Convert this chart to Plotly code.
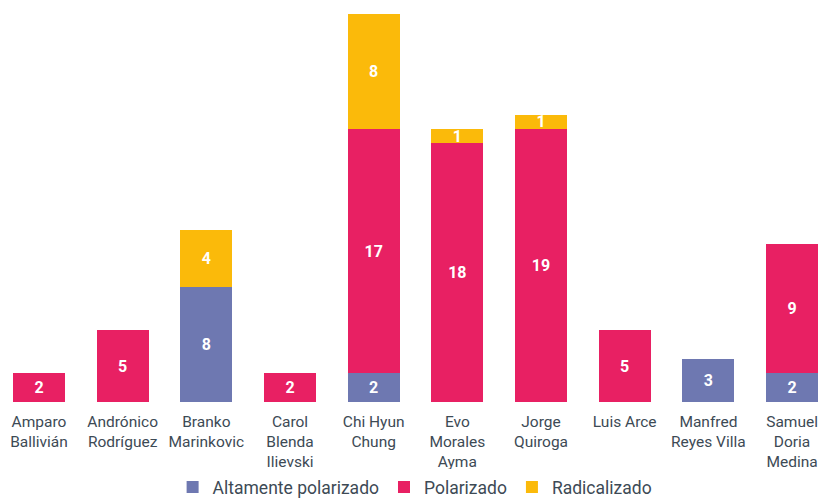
import plotly.graph_objects as go

categories = ["Amparo<br>Ballivián", "Andrónico<br>Rodríguez", "Branko<br>Marinkovic",
              "Carol<br>Blenda<br>Ilievski", "Chi Hyun<br>Chung", "Evo<br>Morales<br>Ayma",
              "Jorge<br>Quiroga", "Luis Arce", "Manfred<br>Reyes Villa", "Samuel<br>Doria<br>Medina"]
altamente = [None, None, 8, None, 2, None, None, None, 3, 2]
polarizado = [2, 5, None, 2, 17, 18, 19, 5, None, 9]
radicalizado = [None, None, 4, None, 8, 1, 1, None, None, None]

series = [
    ("Altamente polarizado", altamente, "#6e78b1"),
    ("Polarizado", polarizado, "#e82063"),
    ("Radicalizado", radicalizado, "#fbba0a"),
]

fig = go.Figure()
for name, vals, color in series:
    fig.add_trace(go.Bar(
        name=name, x=list(range(len(categories))), y=vals,
        marker=dict(color=color, line=dict(width=0)),
        text=["<b>%d</b>" % v if v is not None else "" for v in vals],
        textposition="inside", insidetextanchor="middle",
        textangle=0, constraintext="none",
        insidetextfont=dict(family="Roboto", size=16, color="white"),
        hoverinfo="name+y",
    ))

fig.update_layout(
    barmode="stack", bargap=0.38,
    width=822, height=500,
    margin=dict(l=0, r=0, t=0, b=98, autoexpand=False),
    plot_bgcolor="white", paper_bgcolor="white",
    font=dict(family="Roboto", color="#3d4a55"),
    xaxis=dict(tickmode="array", tickvals=list(range(len(categories))), ticktext=categories,
               range=[-0.466, 9.358], showgrid=False, zeroline=False, showline=False,
               automargin=False,
               tickfont=dict(size=15.5, color="#3d4a55"), ticks="", ticklabelstandoff=8),
    yaxis=dict(range=[0, 27.97], visible=False, automargin=False),
    legend=dict(orientation="h", x=0.505, xanchor="center", yref="container",
                y=0.026, yanchor="middle",
                font=dict(size=17.5, color="#3d4a55"),
                traceorder="normal"),
    showlegend=True,
)
fig.write_html("out.html", config={"displayModeBar": False},
               post_script="document.body.style.margin='0';document.body.style.overflow='hidden';")
